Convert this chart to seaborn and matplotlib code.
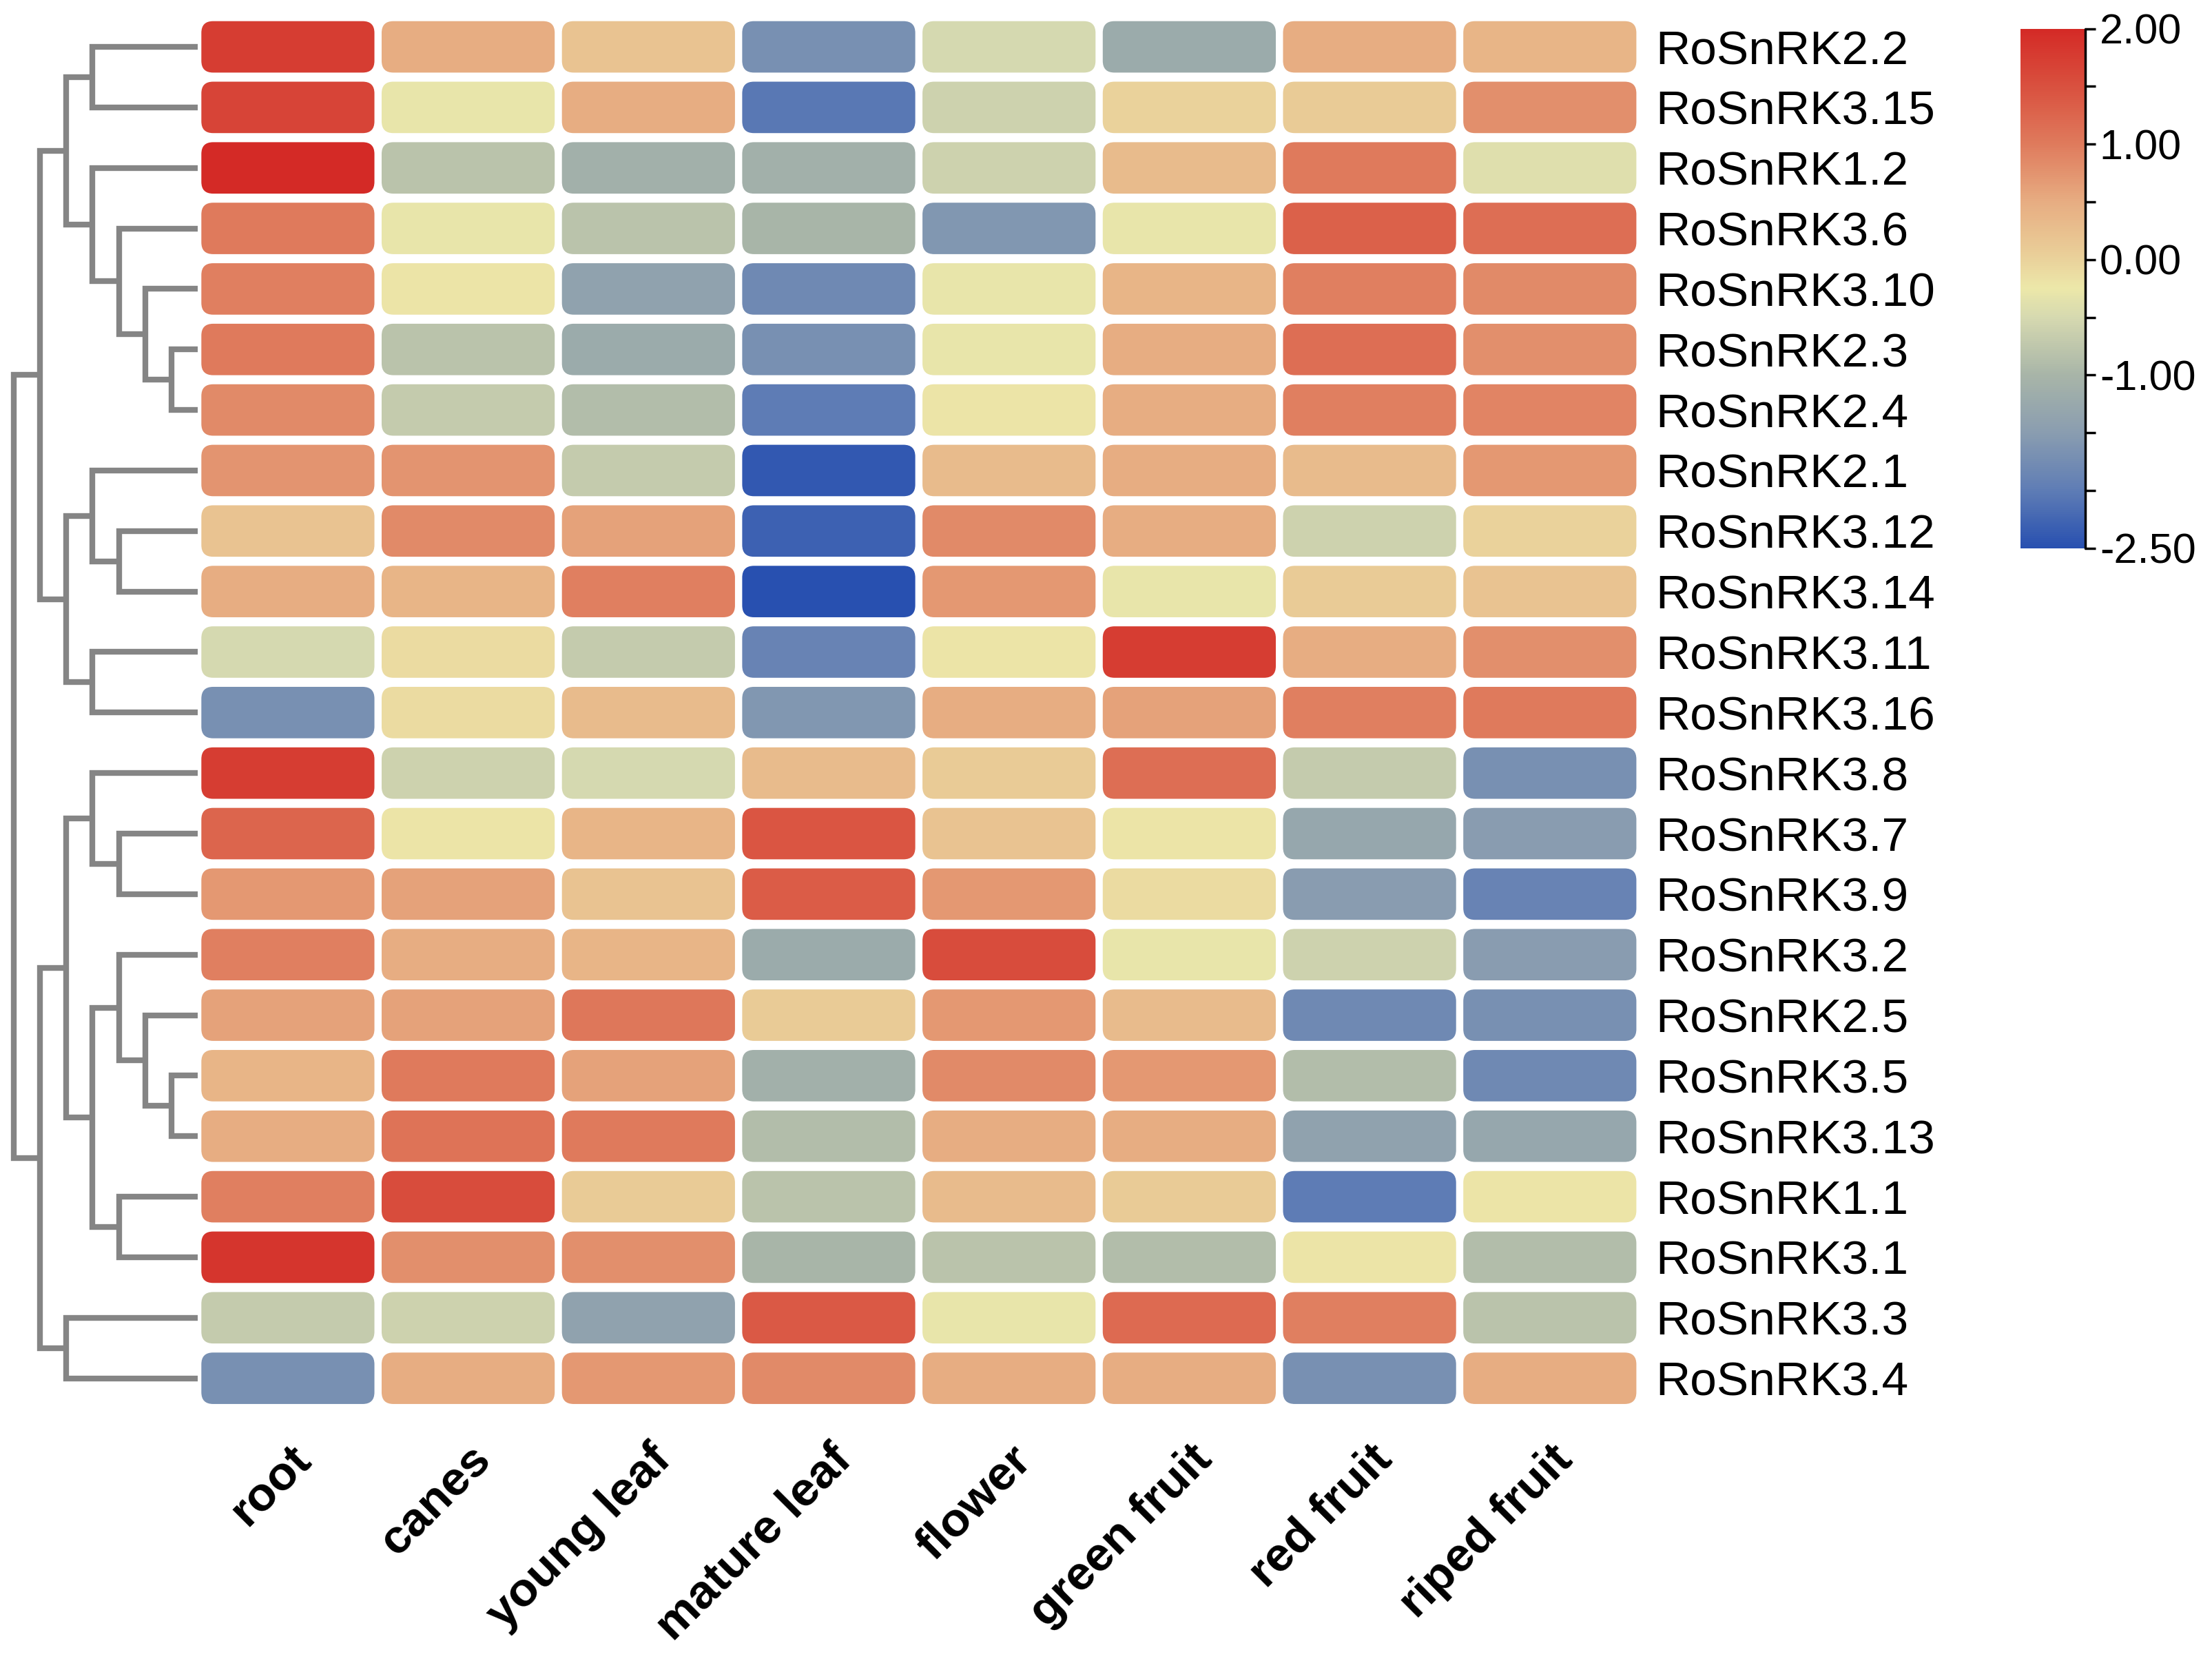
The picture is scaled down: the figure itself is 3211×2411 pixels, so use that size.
import numpy as np
import pandas as pd
import matplotlib
matplotlib.use('Agg')
import matplotlib.pyplot as plt
import seaborn as sns
from matplotlib.colors import LinearSegmentedColormap
from matplotlib.patches import FancyBboxPatch

# genes in the (clustered) row order of the figure
genes = ['RoSnRK2.2', 'RoSnRK3.15', 'RoSnRK1.2', 'RoSnRK3.6', 'RoSnRK3.10', 'RoSnRK2.3',
         'RoSnRK2.4', 'RoSnRK2.1', 'RoSnRK3.12', 'RoSnRK3.14', 'RoSnRK3.11', 'RoSnRK3.16',
         'RoSnRK3.8', 'RoSnRK3.7', 'RoSnRK3.9', 'RoSnRK3.2', 'RoSnRK2.5', 'RoSnRK3.5',
         'RoSnRK3.13', 'RoSnRK1.1', 'RoSnRK3.1', 'RoSnRK3.3', 'RoSnRK3.4']
tissues = ['root', 'canes', 'young leaf', 'mature leaf', 'flower', 'green fruit', 'red fruit', 'riped fruit']

# expression values (z-scores), one list per tissue
root = [1.75, 1.65, 2.0, 1.0, 0.95, 1.0, 0.85, 0.75, 0.2, 0.5, -0.5, -1.7,
        1.75, 1.25, 0.7, 0.95, 0.6, 0.4, 0.5, 0.95, 1.85, -0.7, -1.7]
canes = [0.5, -0.3, -0.8, -0.3, -0.2, -0.8, -0.7, 0.75, 0.85, 0.4, -0.1, -0.1,
         -0.6, -0.2, 0.6, 0.5, 0.6, 1.0, 1.1, 1.55, 0.8, -0.6, 0.5]
young_leaf = [0.2, 0.5, -1.1, -0.8, -1.4, -1.2, -0.9, -0.7, 0.6, 0.95, -0.7, 0.3,
              -0.5, 0.4, 0.2, 0.4, 1.05, 0.6, 1.0, 0.1, 0.8, -1.4, 0.7]
mature_leaf = [-1.7, -2.05, -1.1, -1.0, -1.8, -1.7, -2.0, -2.4, -2.3, -2.5, -1.9, -1.6,
               0.3, 1.45, 1.35, -1.2, 0.1, -1.1, -0.9, -0.8, -1.0, 1.4, 0.85]
flower = [-0.5, -0.6, -0.6, -1.6, -0.3, -0.3, -0.2, 0.3, 0.85, 0.7, -0.2, 0.5,
          0.1, 0.2, 0.7, 1.55, 0.7, 0.85, 0.5, 0.3, -0.8, -0.3, 0.5]
green_fruit = [-1.2, 0.0, 0.3, -0.3, 0.4, 0.5, 0.5, 0.5, 0.5, -0.3, 1.75, 0.6,
               1.15, -0.2, -0.1, -0.3, 0.3, 0.7, 0.5, 0.1, -0.9, 1.2, 0.5]
red_fruit = [0.5, 0.1, 1.0, 1.3, 0.95, 1.15, 0.95, 0.3, -0.6, 0.1, 0.5, 0.95,
             -0.7, -1.3, -1.5, -0.6, -1.8, -0.9, -1.4, -2.0, -0.2, 0.95, -1.7]
riped_fruit = [0.4, 0.8, -0.4, 1.15, 0.85, 0.8, 0.9, 0.7, 0.0, 0.2, 0.8, 1.0,
               -1.7, -1.5, -1.9, -1.5, -1.7, -1.8, -1.3, -0.2, -0.9, -0.8, 0.5]

# row dendrogram: (height, left, right), leaves are row indices
tree = (7,
        (6,
         (5, (4, 0, 1), (4, 2, (3, 3, (2, 4, (1, 5, 6))))),
         (5, (4, 7, (3, 8, 9)), (4, 10, 11))),
        (6,
         (5, (4, 12, (3, 13, 14)),
          (4, (3, 15, (2, 16, (1, 17, 18))), (3, 19, 20))),
         (5, 21, 22)))

# colour scale
cmap_values = [-2.5, -2.0, -1.5, -1.0, -0.5, -0.25, 0.0, 0.5, 1.0, 1.5, 2.0]
cmap_colors = ['#2850b0', '#5f7db5', '#8a9db0', '#a8b5a8', '#d6d9b0', '#ece8a9',
               '#ead29b', '#e7ad82', '#df7b5d', '#d9513f', '#d42a26']
cbar_ticks = [-2.5, -2.0, -1.5, -1.0, -0.5, 0.0, 0.5, 1.0, 1.5, 2.0]
cbar_labels = ['-2.50', '', '', '-1.00', '', '0.00', '', '1.00', '', '2.00']

vmin, vmax = -2.5, 2.0
cmap = LinearSegmentedColormap.from_list(
    'expr', [((v - vmin) / (vmax - vmin), c) for v, c in zip(cmap_values, cmap_colors)])

df = pd.DataFrame({'root': root, 'canes': canes, 'young leaf': young_leaf,
                   'mature leaf': mature_leaf, 'flower': flower, 'green fruit': green_fruit,
                   'red fruit': red_fruit, 'riped fruit': riped_fruit}, index=genes)

sns.set_theme(style='white')
plt.rcParams['font.family'] = ['Liberation Sans', 'DejaVu Sans']
plt.rcParams['text.color'] = 'black'
plt.rcParams['xtick.color'] = 'black'
plt.rcParams['ytick.color'] = 'black'

W, H = 32.11, 24.11
fig = plt.figure(figsize=(W, H), dpi=100)
hm_pos = [0.0894, 0.152, 0.652, 0.838]
ax = fig.add_axes(hm_pos)
cax = fig.add_axes([0.9134, 0.670, 0.0293, 0.3127])
dax = fig.add_axes([0.0062, hm_pos[1], 0.0832, hm_pos[3]])

sns.heatmap(df, ax=ax, cmap=cmap, vmin=vmin, vmax=vmax, cbar_ax=cax)
mesh = ax.collections[0]
mesh.set_visible(False)

# rounded cells
cell_w_px = hm_pos[2] * W * 100 / len(tissues)
cell_h_px = hm_pos[3] * H * 100 / len(genes)
for i, g in enumerate(genes):
    for j, t in enumerate(tissues):
        col = mesh.cmap(mesh.norm(df.loc[g, t]))
        ax.add_patch(FancyBboxPatch((j + 0.02, i + 0.075), 0.96, 0.85,
                                    boxstyle='round,pad=0,rounding_size=0.065',
                                    mutation_aspect=cell_w_px / cell_h_px,
                                    facecolor=col, edgecolor='none'))

ax.yaxis.tick_right()
ax.set_yticks(np.arange(len(genes)) + 0.5)
ax.set_yticklabels(genes, rotation=0, fontsize=50, color='black')
ax.set_xticks(np.arange(len(tissues)) + 0.5)
ax.set_xticklabels(tissues, rotation=45, ha='right', rotation_mode='anchor',
                   fontsize=50, fontweight='bold', color='black')
ax.tick_params(axis='y', length=0, pad=16)
ax.tick_params(axis='x', length=0, pad=30)
ax.set_xlabel('')
ax.set_ylabel('')
for s in ax.spines.values():
    s.set_visible(False)

# colorbar
cbar = mesh.colorbar
cbar.set_ticks(cbar_ticks)
cbar.set_ticklabels(cbar_labels)
cbar.outline.set_visible(False)
cax.tick_params(length=11, width=2.5, labelsize=44, pad=4, color='black',
                labelcolor='black', right=True)
cax.plot([1, 1], [0, 1], transform=cax.transAxes, color='black', lw=2.5, clip_on=False)

# dendrogram
def draw(node):
    if isinstance(node, int):
        return node + 0.5, 0
    h, a, b = node
    ya, ha = draw(a)
    yb, hb = draw(b)
    dax.plot([ha, h, h, hb], [ya, ya, yb, yb], color='#858585', lw=6,
             solid_capstyle='butt', solid_joinstyle='miter', clip_on=False)
    return (ya + yb) / 2, h

draw(tree)
dax.set_xlim(7.0, 0)
dax.set_ylim(len(genes), 0)
dax.axis('off')

fig.savefig('out.png', dpi=100)
